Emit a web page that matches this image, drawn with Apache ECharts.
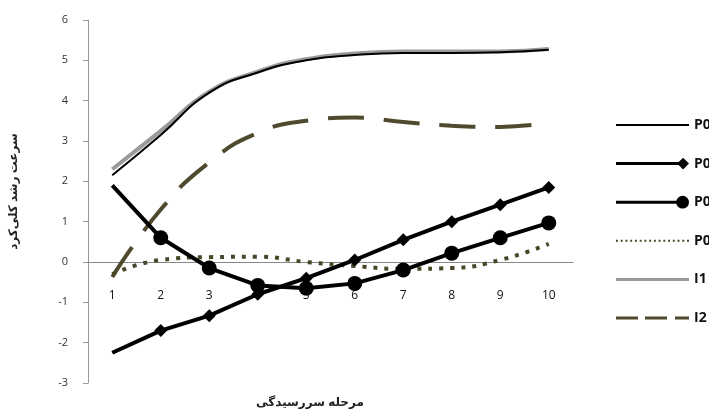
<!DOCTYPE html>
<html><head><meta charset="utf-8">
<script src="https://cdn.jsdelivr.net/npm/echarts@6/dist/echarts.min.js"></script>
<style>html,body{margin:0;padding:0;background:#fff}#c{width:709px;height:410px}</style>
</head><body><div id="c"></div>
<script>
var categories = ['1','2','3','4','5','6','7','8','9','10'];
var seriesNames = ['P0','P0 ','P0  ','P0   ','I1','I2'];
var pLine    = [2.15, 3.15, 4.2, 4.7, 5.0, 5.13, 5.18, 5.18, 5.2, 5.26];
var pDiamond = [-2.25, -1.7, -1.33, -0.8, -0.4, 0.05, 0.55, 1.0, 1.42, 1.85];
var pCircle  = [1.9, 0.6, -0.15, -0.58, -0.65, -0.53, -0.2, 0.22, 0.6, 0.97];
var pDotted  = [-0.3, 0.05, 0.12, 0.13, 0.0, -0.1, -0.17, -0.15, 0.05, 0.45];
var i1 = [2.3, 3.25, 4.22, 4.72, 5.03, 5.17, 5.22, 5.22, 5.22, 5.28];
var i2 = [-0.37, 1.3, 2.47, 3.2, 3.5, 3.58, 3.47, 3.38, 3.35, 3.45];
var yMin = -3, yMax = 6, yStep = 1;

function hideFirst(arr){ return arr.map(function(v,i){ return i===0 ? {value:v, symbol:'none'} : v; }); }

// legend icon shapes (73 x 14 box); corner slivers fix the bounding box
var box = 'M0 0L0.01 0L0 0.01ZM73 14L72.99 14L73 13.99Z';
function bar(x0,x1,h){ var y0=7-h/2, y1=7+h/2; return 'M'+x0+' '+y0+'L'+x1+' '+y0+'L'+x1+' '+y1+'L'+x0+' '+y1+'Z'; }
var iconThin = 'path://' + box + bar(0,73,2);
var iconGray = 'path://' + box + bar(0,73,3);
var iconDiamond = 'path://' + box + bar(0,68,3) + 'M68 1L74 7L68 13L62 7Z';
var iconCircle = 'path://' + box + bar(0,67,3) + 'M61 7A6.5 6.5 0 1 1 74 7A6.5 6.5 0 1 1 61 7Z';
var dotsP = ''; for (var dx=0; dx<=72; dx+=4.8){ dotsP += bar(dx, dx+2, 2); }
var iconDotted = 'path://' + box + dotsP;
var iconDashed = 'path://' + box + bar(0,22,3) + bar(29,51,3) + bar(59,73,3);

var chart = echarts.init(document.getElementById('c'));
chart.setOption({
  animation:false,
  textStyle:{fontFamily:'Open Sans, Liberation Sans, sans-serif'},
  grid:{left:88, right:136, top:20, bottom:27, outerBoundsMode:'none', containLabel:false},
  title:{text:'مرحله سررسیدگی', left:305, top:392, textAlign:'center',
    textStyle:{fontSize:12, fontWeight:'bold', color:'#222', fontFamily:'Noto Sans, DejaVu Sans, sans-serif'}},
  legend:{orient:'vertical', left:616, top:118, padding:0, itemWidth:73, itemHeight:14, itemGap:24.6,
    textStyle:{fontSize:14, color:'#111', fontWeight:'bold'},
    data:[
      {name:seriesNames[0], icon:iconThin},
      {name:seriesNames[1], icon:iconDiamond},
      {name:seriesNames[2], icon:iconCircle},
      {name:seriesNames[3], icon:iconDotted},
      {name:seriesNames[4], icon:iconGray},
      {name:seriesNames[5], icon:iconDashed}
    ]},
  xAxis:{type:'category', data:categories, boundaryGap:true, offset:-121,
    axisLine:{onZero:false, lineStyle:{color:'#888', width:1}},
    axisTick:{show:false},
    axisLabel:{color:'#111', fontSize:12, margin:28}},
  yAxis:{type:'value', min:yMin, max:yMax, interval:yStep,
    name:'سرعت رشد کلی‌کرد', nameLocation:'middle', nameGap:68, nameRotate:90,
    nameTextStyle:{fontSize:12, fontWeight:'bold', color:'#222', padding:[0,0,0,20], fontFamily:'Noto Sans, DejaVu Sans, sans-serif'},
    axisLine:{show:true, lineStyle:{color:'#999'}},
    axisTick:{show:true, length:5, lineStyle:{color:'#999'}},
    splitLine:{show:false},
    axisLabel:{color:'#333', fontSize:11, margin:20}},
  series:[
    {name:seriesNames[0], type:'line', data:pLine, smooth:true, symbol:'none',
      lineStyle:{color:'#000', width:2}, itemStyle:{color:'#000'}, z:3},
    {name:seriesNames[1], type:'line', data:hideFirst(pDiamond), symbol:'diamond', symbolSize:13,
      lineStyle:{color:'#000', width:4}, itemStyle:{color:'#000'}, z:5},
    {name:seriesNames[2], type:'line', data:hideFirst(pCircle), symbol:'circle', symbolSize:15,
      lineStyle:{color:'#000', width:4}, itemStyle:{color:'#000'}, z:5},
    {name:seriesNames[3], type:'line', data:pDotted, smooth:true, symbol:'none',
      lineStyle:{color:'#4a4628', width:4, type:[4,7]}, itemStyle:{color:'#4a4628'}, z:4},
    {name:seriesNames[4], type:'line', data:i1, smooth:true, symbol:'none',
      lineStyle:{color:'#9a9a9a', width:4}, itemStyle:{color:'#9a9a9a'}, z:2},
    {name:seriesNames[5], type:'line', data:i2, smooth:true, symbol:'none',
      lineStyle:{color:'#4f4a2e', width:4, type:[36,20]}, itemStyle:{color:'#4f4a2e'}, z:2}
  ]
});
</script></body></html>
